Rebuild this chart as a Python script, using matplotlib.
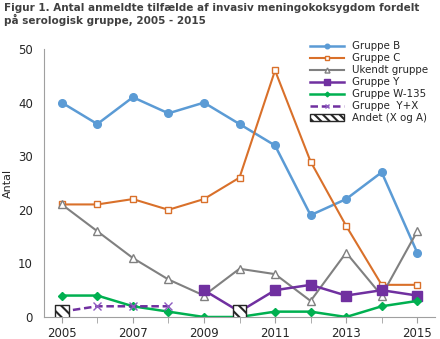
import matplotlib.pyplot as plt
from matplotlib.lines import Line2D
from matplotlib.patches import Patch

years = list(range(2005, 2016))

gruppe_b = [40, 36, 41, 38, 40, 36, 32, 19, 22, 27, 12]
gruppe_c = [21, 21, 22, 20, 22, 26, 46, 29, 17, 6, 6]
ukendt = [21, 16, 11, 7, 4, 9, 8, 3, 12, 4, 16]
gruppe_y_years = [2009, 2010, 2011, 2012, 2013, 2014, 2015]
gruppe_y = [5, 1, 5, 6, 4, 5, 4]
gruppe_w135 = [4, 4, 2, 1, 0, 0, 1, 1, 0, 2, 3]
gruppe_yx_years = [2005, 2006, 2007, 2008]
gruppe_yx = [1, 2, 2, 2]
andet_years = [2005, 2010]
andet = [1, 1]

plt.rcParams['font.family'] = ['DejaVu Sans']
plt.rcParams['hatch.linewidth'] = 1.5

fig = plt.figure(figsize=(4.4, 3.39), dpi=100)
ax = fig.add_axes([44 / 440, (339 - 317) / 339, (435 - 44) / 440, (317 - 49) / 339])

styles = [
    dict(color='#5B9BD5', lw=1.8, marker='o', ms=5.5),
    dict(color='#D9702A', lw=1.5, marker='s', ms=5, mfc='white', mec='#D9702A'),
    dict(color='#808080', lw=1.5, marker='^', ms=6, mfc='white', mec='#808080'),
    dict(color='#7030A0', lw=1.8, marker='s', ms=6.5),
    dict(color='#00B050', lw=1.8, marker='D', ms=4),
    dict(color='#7030A0', lw=1.8, ls=(0, (3, 1.5)), marker='x', ms=6, mec='#8E5CC0'),
]
series = [
    (years, gruppe_b, 'Gruppe B'),
    (years, gruppe_c, 'Gruppe C'),
    (years, ukendt, 'Ukendt gruppe'),
    (gruppe_y_years, gruppe_y, 'Gruppe Y'),
    (years, gruppe_w135, 'Gruppe W-135'),
    (gruppe_yx_years, gruppe_yx, 'Gruppe  Y+X'),
]
handles = []
for (x, y, name), st in zip(series, styles):
    ax.plot(x, y, **st)
    # smaller markers in the legend
    lst = dict(st)
    lst['ms'] = st['ms'] * 0.6
    handles.append(Line2D([], [], label=name, **lst))

ax.scatter(andet_years, andet, marker='s', s=95, facecolor='white', edgecolor='#262626',
           hatch='\\\\\\', lw=1, zorder=5)
handles.append(Patch(facecolor='white', edgecolor='#262626', hatch='\\\\\\\\',
                     label='Andet (X og A)'))

ax.set_xlim(2004.5, 2015.5)
ax.set_ylim(0, 50)
ax.set_yticks(range(0, 51, 10))
ax.set_xticks(range(2005, 2016, 2))
ax.set_xticks(range(2005, 2016), minor=True)
ax.tick_params(axis='y', length=0, labelsize=8.5, labelcolor='#262626', pad=8)
ax.tick_params(axis='x', which='both', length=4, color='#A0A0A0', labelsize=8.5,
               labelcolor='#262626', direction='out')
for side in ['top', 'right']:
    ax.spines[side].set_visible(False)
for side in ['left', 'bottom']:
    ax.spines[side].set_color('#A0A0A0')
ax.set_ylabel('Antal', fontsize=8, color='#262626', labelpad=4)

leg = ax.legend(handles=handles, loc='upper left', bbox_to_anchor=(0.68, 1.03),
                frameon=False, fontsize=7.4, handlelength=3.3, handleheight=0.6,
                labelspacing=0.2, handletextpad=0.75, borderpad=0, borderaxespad=0)
for t in leg.get_texts():
    t.set_color('#262626')

fig.text(0.008, 0.99, 'Figur 1. Antal anmeldte tilfælde af invasiv meningokoksygdom fordelt\n'
         'på serologisk gruppe, 2005 - 2015', ha='left', va='top', fontsize=7.5,
         fontweight='bold', color='#404040', linespacing=1.05)

fig.savefig('out.png')
